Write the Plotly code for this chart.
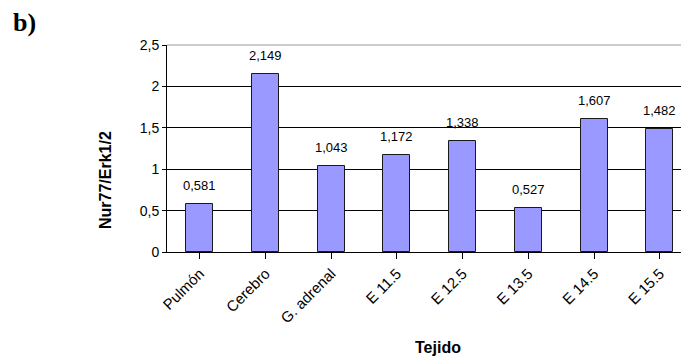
import plotly.graph_objects as go

categories = ["Pulmón", "Cerebro", "G. adrenal", "E 11.5", "E 12.5", "E 13.5", "E 14.5", "E 15.5"]
values = [0.581, 2.149, 1.043, 1.172, 1.338, 0.527, 1.607, 1.482]
y_ticks = [0, 0.5, 1, 1.5, 2, 2.5]

font = "Liberation Sans, Arial, sans-serif"

# plot area in pixels
L, R, T, B = 167, 681, 45, 252
def px(x):
    return (x - L) / (R - L)
def py(y):
    return (B - y) / (B - T)

fig = go.Figure()
fig.add_trace(go.Bar(
    x=list(range(len(categories))), y=values,
    width=0.41,
    marker=dict(color="#9999FF", line=dict(color="#1a1a1a", width=1)),
    hoverinfo="skip",
))

for i, v in enumerate(values):
    fig.add_annotation(x=i, y=v, text=f"{v:.3f}".replace(".", ","),
                       showarrow=False, yanchor="bottom", yshift=9,
                       font=dict(family=font, size=13, color="black"))

fig.add_shape(type="line", xref="paper", yref="paper", x0=0, x1=1, y0=1, y1=1,
              line=dict(color="#999999", width=1), layer="above")

fig.add_annotation(xref="paper", yref="paper", x=px(11), y=py(23),
                   xanchor="left", yanchor="middle", text="<b>b)</b>", showarrow=False,
                   font=dict(family="Liberation Serif, Times New Roman, serif", size=26, color="black"))
fig.add_annotation(xref="paper", yref="paper", x=px(105), y=py(180),
                   xanchor="center", yanchor="middle", text="<b>Nur77/Erk1/2</b>",
                   textangle=-90, showarrow=False,
                   font=dict(family=font, size=16, color="black"))
fig.add_annotation(xref="paper", yref="paper", x=px(438), y=py(347),
                   xanchor="center", yanchor="middle", text="<b>Tejido</b>", showarrow=False,
                   font=dict(family=font, size=16, color="black"))

fig.update_layout(
    width=681, height=360,
    margin=dict(l=L, r=0, t=T, b=360 - B),
    paper_bgcolor="white", plot_bgcolor="white",
    separators=",.",
    showlegend=False,
    font=dict(family=font, size=12, color="black"),
    bargap=0,
)
fig.update_xaxes(
    range=[-0.5, -0.5 + 514/65.7],
    tickmode="array", tickvals=list(range(len(categories))), ticktext=categories,
    tickangle=-45, tickson="boundaries", ticks="outside", ticklen=6, tickcolor="black",
    showline=True, linecolor="black", linewidth=1, showgrid=False, zeroline=False,
    tickfont=dict(family=font, size=15, color="black"),
)
fig.update_yaxes(
    range=[0, 2.5], tickvals=y_ticks, tickformat="~g",
    ticks="outside", ticklen=4, tickcolor="black",
    showline=True, linecolor="black", linewidth=1,
    showgrid=True, gridcolor="black", gridwidth=1, zeroline=False,
    tickfont=dict(family=font, size=14, color="black"),
)

fig.write_html("out.html")
